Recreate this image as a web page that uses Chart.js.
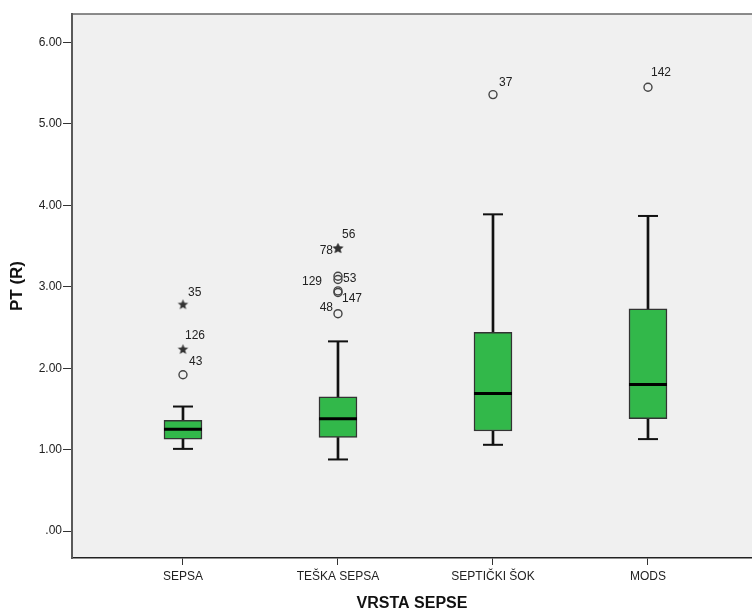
<!DOCTYPE html>
<html>
<head>
<meta charset="utf-8">
<script src="https://cdn.jsdelivr.net/npm/chart.js@4/dist/chart.umd.min.js"></script>
<style>
  html, body { margin: 0; padding: 0; background: #ffffff; }
  #wrap { width: 752px; height: 614px; }
</style>
</head>
<body>
<div id="wrap"><canvas id="c" width="752" height="614"></canvas></div>
<script>
// Box plot summaries of PT (R) per sepsis type
const categories  = ['SEPSA', 'TEŠKA SEPSA', 'SEPTIČKI ŠOK', 'MODS'];
const whiskerLow  = [1.01, 0.88, 1.06, 1.13];
const quartile1   = [1.13, 1.15, 1.23, 1.38];
const medians     = [1.25, 1.38, 1.69, 1.80];
const quartile3   = [1.36, 1.65, 2.44, 2.73];
const whiskerHigh = [1.53, 2.33, 3.89, 3.87];

// Outlying cases: group index, value, case number, extreme (star) or not (circle)
const outlierGroup   = [0, 0, 0, 1, 1, 1, 1, 1, 1, 1, 2, 3];
const outlierValue   = [2.78, 2.23, 1.92, 3.47, 3.47, 3.13, 3.09, 2.95, 2.93, 2.67, 5.36, 5.45];
const outlierCase    = ['35', '126', '43', '56', '78', '53', '129', '147', '', '48', '37', '142'];
const outlierExtreme = [true, true, false, true, true, false, false, false, false, false, false, false];

// Y axis ticks
const yTicks = [0, 1, 2, 3, 4, 5, 6];

// Case label placement around each outlier marker (pixels, text alignment)
const labelDx    = [5, 2, 6, 4, -5, 5, -16, 4, 0, -5, 6, 3];
const labelDy    = [-12, -14, -13, -14, 2, 2, 2, 8, 0, -6, -12, -15];
const labelAlign = ['left', 'left', 'left', 'left', 'right', 'left', 'right', 'left', 'left', 'right', 'left', 'left'];

const FONT = "'Liberation Sans', Arial, sans-serif";

// Small filled five-pointed star used for extreme cases
function starMarker(rOuter, rInner, color) {
  const size = Math.ceil(rOuter * 2 + 2);
  const cv = document.createElement('canvas');
  cv.width = size; cv.height = size;
  const g = cv.getContext('2d');
  const c = size / 2;
  g.beginPath();
  for (let k = 0; k < 10; k++) {
    const r = k % 2 === 0 ? rOuter : rInner;
    const a = -Math.PI / 2 + k * Math.PI / 5;
    const px = c + r * Math.cos(a), py = c + r * Math.sin(a);
    if (k === 0) g.moveTo(px, py); else g.lineTo(px, py);
  }
  g.closePath();
  g.fillStyle = color;
  g.fill();
  return cv;
}

const circles = [], stars = [];
outlierValue.forEach((v, i) => {
  const p = { x: outlierGroup[i], y: v };
  (outlierExtreme[i] ? stars : circles).push(p);
});

const plotFrame = {
  id: 'plotFrame',
  beforeDraw(chart) {
    const { ctx, chartArea: a } = chart;
    ctx.save();
    ctx.fillStyle = '#ffffff';
    ctx.fillRect(0, 0, chart.width, chart.height);
    ctx.fillStyle = '#f0f0f0';
    ctx.fillRect(a.left, a.top, a.right - a.left, a.bottom - a.top);
    ctx.strokeStyle = '#666666';
    ctx.lineWidth = 1.5;
    ctx.beginPath();
    ctx.moveTo(a.left, a.top);
    ctx.lineTo(a.right, a.top);
    ctx.stroke();
    ctx.restore();
  },
  afterDatasetsDraw(chart) {
    const { ctx, scales: { x, y } } = chart;
    ctx.save();
    ctx.font = '12px ' + FONT;
    ctx.fillStyle = '#222';
    ctx.textBaseline = 'middle';
    outlierCase.forEach((lab, i) => {
      if (!lab) return;
      const px = x.getPixelForValue(outlierGroup[i]);
      const py = y.getPixelForValue(outlierValue[i]);
      ctx.textAlign = labelAlign[i];
      ctx.fillText(lab, px + labelDx[i], py + labelDy[i]);
    });
    ctx.restore();
  }
};

new Chart(document.getElementById('c'), {
  type: 'bar',
  data: {
    datasets: [
      {
        label: 'box',
        data: categories.map((_, i) => ({ x: i, y: [quartile1[i], quartile3[i]] })),
        backgroundColor: '#32b84a',
        borderColor: '#333333',
        borderWidth: 1.5,
        borderSkipped: false,
        barThickness: 38,
        grouped: false,
        order: 3
      },
      {
        label: 'upper whisker',
        data: categories.map((_, i) => ({ x: i, y: [quartile3[i], whiskerHigh[i]] })),
        backgroundColor: '#111111',
        borderWidth: 0,
        barThickness: 2,
        grouped: false,
        order: 4
      },
      {
        label: 'lower whisker',
        data: categories.map((_, i) => ({ x: i, y: [whiskerLow[i], quartile1[i]] })),
        backgroundColor: '#111111',
        borderWidth: 0,
        barThickness: 2,
        grouped: false,
        order: 4
      },
      {
        type: 'scatter',
        label: 'caps',
        data: categories.flatMap((_, i) => [{ x: i, y: whiskerHigh[i] }, { x: i, y: whiskerLow[i] }]),
        pointStyle: 'line',
        radius: 10,
        borderWidth: 2,
        borderColor: '#111111',
        order: 2
      },
      {
        type: 'scatter',
        label: 'median',
        data: categories.map((_, i) => ({ x: i, y: medians[i] })),
        pointStyle: 'line',
        radius: 19,
        borderWidth: 3,
        borderColor: '#000000',
        order: 1
      },
      {
        type: 'scatter',
        label: 'outliers',
        data: circles,
        pointStyle: 'circle',
        radius: 4,
        borderWidth: 1.4,
        borderColor: '#444444',
        backgroundColor: 'rgba(0,0,0,0)',
        order: 1
      },
      {
        type: 'scatter',
        label: 'extremes',
        data: stars,
        pointStyle: starMarker(5.5, 2.4, '#333333'),
        radius: 5,
        order: 1
      }
    ]
  },
  options: {
    responsive: false,
    devicePixelRatio: 1,
    animation: false,
    events: [],
    layout: { autoPadding: false, padding: { top: 14, right: 0, bottom: 0, left: 0 } },
    plugins: { legend: { display: false }, tooltip: { enabled: false } },
    scales: {
      x: {
        type: 'linear',
        min: -0.716,
        max: 3.671,
        offset: false,
        afterBuildTicks: s => { s.ticks = categories.map((_, i) => ({ value: i })); },
        afterFit: s => {
          s.height = 56;
          s.paddingLeft = 0; s.paddingRight = 0; s.paddingTop = 0; s.paddingBottom = 0;
        },
        grid: { offset: false, drawOnChartArea: false, drawTicks: true, tickLength: 7, color: '#333333' },
        border: { display: true, color: '#222222', width: 1.5 },
        ticks: {
          autoSkip: false, maxRotation: 0, padding: 4,
          color: '#222', font: { family: FONT, size: 12 },
          callback: v => categories[v] ?? ''
        },
        title: {
          display: true, text: 'VRSTA SEPSE', color: '#111',
          font: { family: FONT, size: 16, weight: 'bold' },
          padding: { top: 0, bottom: 1 }
        }
      },
      y: {
        type: 'linear',
        min: -0.33,
        max: 6.35,
        afterBuildTicks: s => { s.ticks = yTicks.map(v => ({ value: v })); },
        afterFit: s => {
          s.width = 72;
          s.paddingLeft = 0; s.paddingRight = 0; s.paddingTop = 0; s.paddingBottom = 0;
        },
        grid: { drawOnChartArea: false, drawTicks: true, tickLength: 9, color: '#333333' },
        border: { display: true, color: '#5a5a5a', width: 2 },
        ticks: {
          padding: 1, color: '#222', font: { family: FONT, size: 12 },
          callback: v => (v === 0 ? '.00' : v.toFixed(2))
        },
        title: {
          display: true, text: 'PT (R)', color: '#111',
          font: { family: FONT, size: 17, weight: 'bold' },
          padding: { top: 7, bottom: 0 }
        }
      }
    }
  },
  plugins: [plotFrame]
});
</script>
</body>
</html>
